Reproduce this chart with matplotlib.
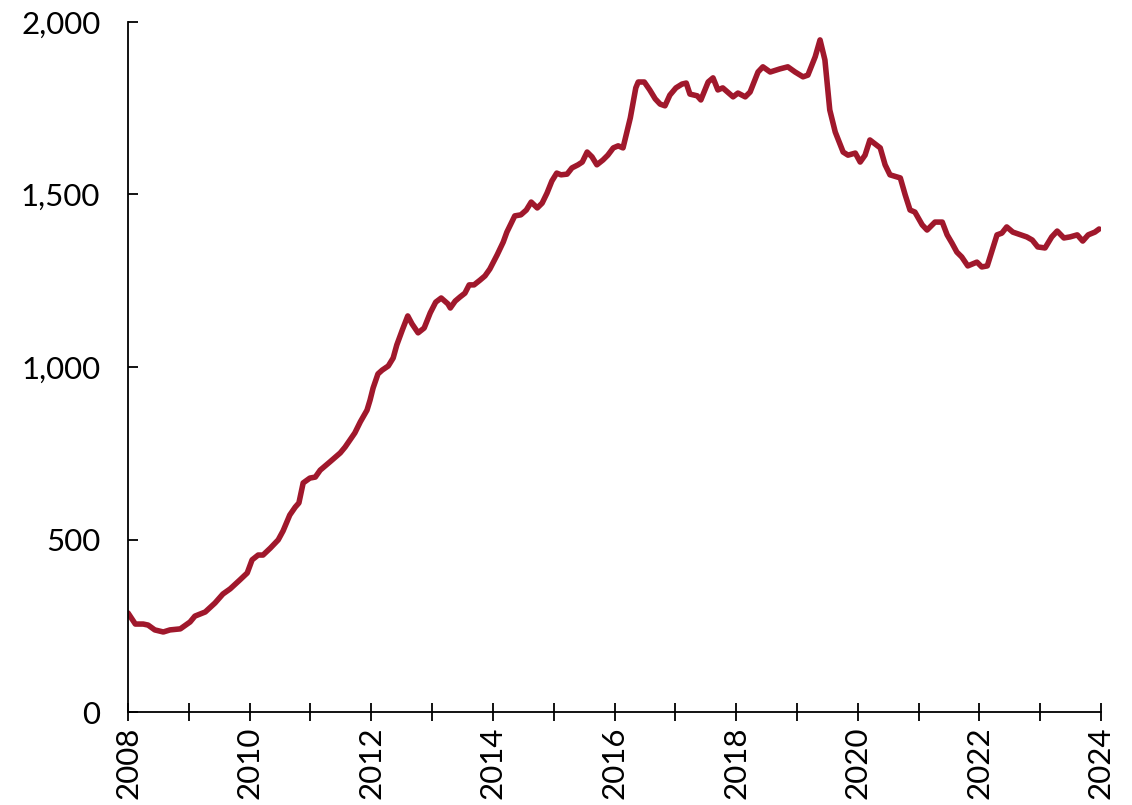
import matplotlib
matplotlib.use("Agg")
import matplotlib.pyplot as plt
from matplotlib.ticker import FuncFormatter

years = [2008.00, 2008.12, 2008.25, 2008.33, 2008.44, 2008.58, 2008.69, 2008.86,
         2009.02, 2009.10, 2009.27, 2009.43, 2009.56, 2009.68, 2009.84, 2009.96,
         2010.04, 2010.14, 2010.22, 2010.34, 2010.47, 2010.55, 2010.66, 2010.75,
         2010.81, 2010.88, 2010.99, 2011.08, 2011.16, 2011.32, 2011.49, 2011.57,
         2011.73, 2011.82, 2011.93, 2011.98, 2012.03, 2012.11, 2012.18, 2012.28,
         2012.36, 2012.42, 2012.51, 2012.60, 2012.67, 2012.77, 2012.87, 2012.97,
         2013.06, 2013.15, 2013.26, 2013.30, 2013.38, 2013.46, 2013.54, 2013.61,
         2013.69, 2013.79, 2013.87, 2013.95, 2014.07, 2014.17, 2014.23, 2014.36,
         2014.46, 2014.55, 2014.63, 2014.73, 2014.81, 2014.89, 2014.97, 2015.05,
         2015.12, 2015.22, 2015.30, 2015.40, 2015.47, 2015.55, 2015.63, 2015.71,
         2015.81, 2015.89, 2015.98, 2016.06, 2016.14, 2016.26, 2016.35, 2016.39,
         2016.49, 2016.58, 2016.67, 2016.75, 2016.83, 2016.91, 2017.01, 2017.11,
         2017.18, 2017.24, 2017.36, 2017.42, 2017.54, 2017.62, 2017.70, 2017.78,
         2017.95, 2018.03, 2018.15, 2018.23, 2018.36, 2018.44, 2018.56, 2018.72,
         2018.85, 2018.97, 2019.10, 2019.18, 2019.30, 2019.38, 2019.46, 2019.54,
         2019.63, 2019.76, 2019.84, 2019.96, 2020.04, 2020.12, 2020.20, 2020.37,
         2020.45, 2020.53, 2020.70, 2020.78, 2020.86, 2020.94, 2021.06, 2021.14,
         2021.27, 2021.39, 2021.47, 2021.55, 2021.63, 2021.71, 2021.81, 2021.96,
         2022.04, 2022.13, 2022.29, 2022.37, 2022.45, 2022.55, 2022.78, 2022.87,
         2022.96, 2023.08, 2023.19, 2023.28, 2023.39, 2023.49, 2023.61, 2023.70,
         2023.79, 2023.90, 2023.97]

values = [287, 255, 255, 252, 238, 232, 238, 241,
          261, 278, 290, 316, 342, 357, 383, 403,
          441, 455, 455, 475, 499, 525, 571, 594,
          606, 664, 678, 681, 701, 725, 751, 768,
          809, 841, 875, 904, 939, 980, 991, 1003,
          1026, 1064, 1107, 1148, 1125, 1099, 1113, 1157,
          1188, 1200, 1183, 1171, 1191, 1203, 1214, 1238,
          1238, 1252, 1264, 1284, 1325, 1362, 1391, 1438,
          1441, 1455, 1478, 1461, 1475, 1504, 1539, 1562,
          1557, 1559, 1577, 1586, 1594, 1623, 1609, 1586,
          1600, 1614, 1635, 1641, 1635, 1722, 1809, 1826,
          1826, 1803, 1777, 1762, 1757, 1788, 1809, 1820,
          1823, 1791, 1786, 1774, 1826, 1838, 1803, 1809,
          1783, 1794, 1783, 1797, 1855, 1870, 1855, 1864,
          1870, 1855, 1841, 1846, 1899, 1948, 1890, 1745,
          1681, 1623, 1614, 1620, 1594, 1614, 1658, 1635,
          1586, 1557, 1548, 1499, 1455, 1449, 1412, 1397,
          1420, 1420, 1383, 1359, 1333, 1319, 1293, 1304,
          1290, 1293, 1383, 1388, 1406, 1391, 1377, 1368,
          1348, 1345, 1377, 1394, 1374, 1377, 1383, 1365,
          1383, 1391, 1400]

x_ticks = list(range(2008, 2025))
x_labels = [str(y) if y % 2 == 0 else "" for y in x_ticks]
y_ticks = [0, 500, 1000, 1500, 2000]

plt.rcParams['font.family'] = ['Lato', 'DejaVu Sans']

fig = plt.figure(figsize=(11.32, 8.05), dpi=100)
ax = fig.add_axes([0.1131, 0.1155, 0.8595, 0.8572])

ax.plot(years, values, color='#A0182C', linewidth=4.0, solid_joinstyle='round',
        solid_capstyle='round')

ax.set_xlim(2008, 2024)
ax.set_ylim(0, 2000)
ax.set_xticks(x_ticks)
ax.set_xticklabels(x_labels, rotation=90, fontsize=22.5)
ax.set_yticks(y_ticks)
ax.yaxis.set_major_formatter(FuncFormatter(lambda v, p: f"{int(v):,}"))
ax.tick_params(axis='y', direction='in', length=7, width=1.3, labelsize=22.5, pad=20)
ax.tick_params(axis='x', direction='inout', length=13, width=1.3, pad=4)

for s in ['top', 'right']:
    ax.spines[s].set_visible(False)
for s in ['left', 'bottom']:
    ax.spines[s].set_linewidth(1.3)

fig.savefig('out.png', dpi=100)
